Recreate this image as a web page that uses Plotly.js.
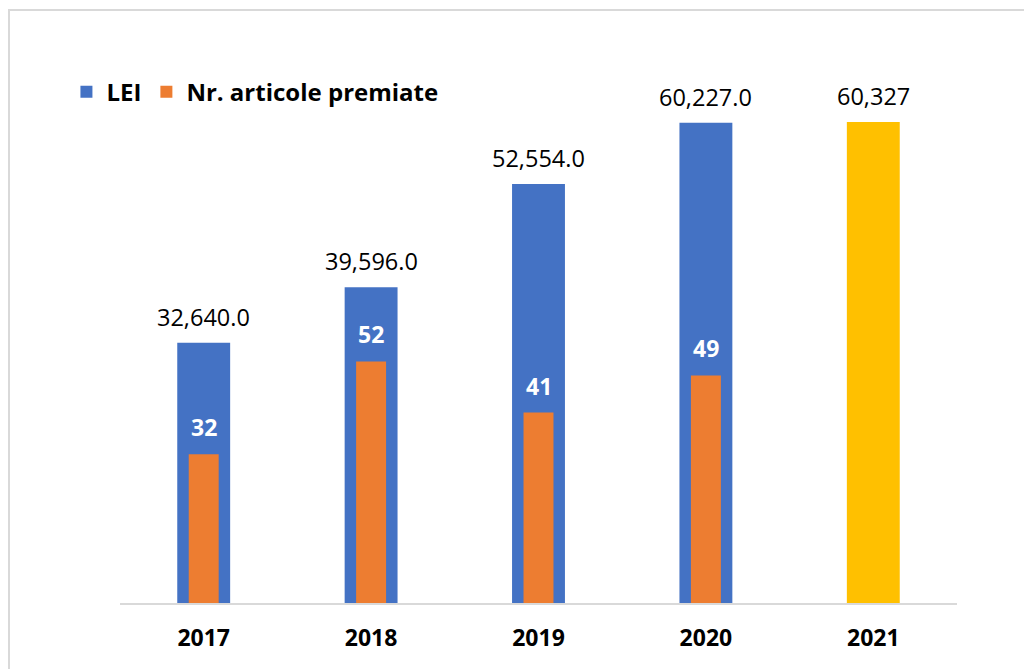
<!DOCTYPE html>
<html>
<head>
<meta charset="utf-8">
<script src="https://cdn.plot.ly/plotly-3.0.1.min.js"></script>
<style>
  html, body { margin: 0; padding: 0; background: #ffffff; overflow: hidden; }
  #frame { position: absolute; left: 8px; top: 9px; width: 1100px; height: 800px;
           border: 2px solid #d9d9d9; box-sizing: border-box; }
  #chart { position: absolute; left: 0; top: 0; width: 1024px; height: 669px; }
</style>
</head>
<body>
<div id="frame"></div>
<div id="chart"></div>
<script>
// ---- data ----
const years = ["2017", "2018", "2019", "2020", "2021"];
const lei = [32640, 39596, 52554, 60227, 60327];
const leiLabels = ["32,640.0", "39,596.0", "52,554.0", "60,227.0", "60,327"];
const articles = [32, 52, 41, 49, null];
const articleLabels = ["32", "52", "41", "49", ""];
const leiColors = ["#4472C4", "#4472C4", "#4472C4", "#4472C4", "#FFC000"];

const FONT = '"Open Sans", "Noto Sans", sans-serif';

const traceLei = {
  type: "bar",
  name: "<b>LEI</b>",
  x: years,
  y: lei,
  width: 0.316,
  marker: { color: leiColors },
  yaxis: "y"
};
const traceArt = {
  type: "bar",
  name: "<b>Nr. articole premiate</b>",
  x: years,
  y: articles,
  width: 0.179,
  marker: { color: "#ED7D31" },
  yaxis: "y2"
};

// value labels: x given as category index so numeric-looking names are not misread
const annotations = [];
years.forEach((yr, i) => {
  annotations.push({
    x: i, y: lei[i], xref: "x", yref: "y",
    text: leiLabels[i], showarrow: false,
    yanchor: "middle", yshift: 26,
    font: { family: FONT, size: 23.5, color: "#000000" }
  });
  if (articles[i] !== null) {
    annotations.push({
      x: i, y: articles[i], xref: "x", yref: "y2",
      text: "<b>" + articleLabels[i] + "</b>", showarrow: false,
      yanchor: "middle", yshift: 27,
      font: { family: FONT, size: 23, color: "#ffffff" }
    });
  }
});

const hiddenAxis = {
  showgrid: false, zeroline: false, showline: false,
  showticklabels: false, ticks: ""
};

const layout = {
  width: 1024,
  height: 669,
  margin: { l: 120, r: 67, t: 60, b: 66 },
  paper_bgcolor: "rgba(0,0,0,0)",
  plot_bgcolor: "rgba(0,0,0,0)",
  barmode: "overlay",
  showlegend: true,
  legend: {
    orientation: "h",
    x: -0.064, xanchor: "left",
    y: 0.941, yanchor: "middle",
    font: { family: FONT, size: 24, color: "#000000" },
    bgcolor: "rgba(0,0,0,0)",
    traceorder: "normal"
  },
  xaxis: {
    type: "category",
    autorange: false,
    range: [-0.5, years.length - 0.5],
    showgrid: false,
    zeroline: false,
    showline: true,
    linecolor: "#d9d9d9",
    linewidth: 2,
    ticks: "outside",
    ticklen: 13,
    tickcolor: "rgba(0,0,0,0)",
    tickvals: years,
    ticktext: years.map(y => "<b>" + y + "</b>"),
    tickfont: { family: FONT, size: 23, color: "#000000" }
  },
  yaxis: Object.assign({ range: [0, 68100] }, hiddenAxis),
  yaxis2: Object.assign({ range: [0, 116.9], overlaying: "y", side: "right" }, hiddenAxis),
  annotations: annotations
};

Plotly.newPlot("chart", [traceLei, traceArt], layout, { displayModeBar: false });
</script>
</body>
</html>
